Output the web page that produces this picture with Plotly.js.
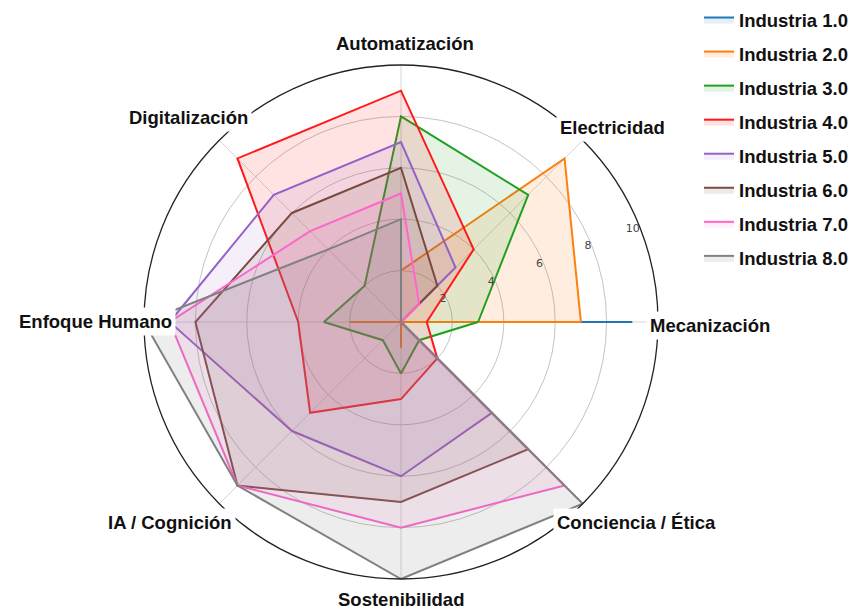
<!DOCTYPE html>
<html>
<head>
<meta charset="utf-8">
<script src="https://cdn.plot.ly/plotly-3.0.1.min.js"></script>
<style>
  html, body { margin: 0; padding: 0; background: #fff; }
  #grafic { width: 850px; height: 609px; }
</style>
</head>
<body>
<div id="grafic"></div>
<script>
// categories (eixos del radar)
var categories = ['Mecanización', 'Electricidad', 'Automatización', 'Digitalización',
                  'Enfoque Humano', 'IA / Cognición', 'Sostenibilidad', 'Conciencia / Ética'];

// valors de cada revolucio industrial (0-10)
var ind1 = [9, 0, 0, 0, 0, 0, 0, 0];
var ind2 = [7, 9, 2, 0, 2, 0, 1, 0];
var ind3 = [3, 7, 8, 2, 3, 1, 2, 1];
var ind4 = [1, 4, 9, 9, 4, 5, 3, 2];
var ind5 = [0, 3, 7, 7, 9, 6, 6, 5];
var ind6 = [0, 2, 6, 6, 8, 9, 7, 7];
var ind7 = [0, 1, 5, 5, 9, 9, 8, 9];
var ind8 = [0, 0, 4, 4, 10, 9, 10, 10];

var noms = ['Industria 1.0', 'Industria 2.0', 'Industria 3.0', 'Industria 4.0',
            'Industria 5.0', 'Industria 6.0', 'Industria 7.0', 'Industria 8.0'];
var radialTicks = [2, 4, 6, 8, 10];

var series = [ind1, ind2, ind3, ind4, ind5, ind6, ind7, ind8];
var colors = ['#1f77b4', '#ff7f0e', '#1fa01f', '#ff1a1a', '#9461c8', '#7a4a40', '#ff66cc', '#808080'];
var fills  = ['rgba(31,119,180,0.12)', 'rgba(255,127,14,0.13)', 'rgba(31,160,31,0.12)', 'rgba(255,26,26,0.12)',
              'rgba(148,97,200,0.10)', 'rgba(122,74,64,0.12)', 'rgba(255,102,204,0.10)', 'rgba(128,128,128,0.14)'];

// posicio (px) de les etiquetes dels eixos
var labelX = [710, 612, 405, 188, 95, 170, 401, 636];
var labelY = [325, 128, 43, 118, 321, 522, 599, 522];

var W = 850, H = 609;

// tanquem cada poligon repetint el primer punt
var traces = [];
for (var k = 0; k < series.length; ++k) {
    var r = series[k].concat([series[k][0]]);
    var th = categories.concat([categories[0]]);
    traces.push({
        type: 'scatterpolar',
        r: r,
        theta: th,
        mode: 'lines',
        fill: 'toself',
        fillcolor: fills[k],
        line: {color: colors[k], width: 2},
        name: noms[k],
        legendgroup: 'g' + k,
        hoverinfo: 'skip'
    });
}

var fontEtiq = {family: 'Liberation Sans, Arial, sans-serif', size: 18.5, weight: 'bold', color: '#111'};

var anots = [];
for (var j = 0; j < categories.length; ++j) {
    anots.push({
        text: categories[j],
        xref: 'paper', yref: 'paper',
        x: labelX[j] / W, y: 1 - labelY[j] / H,
        xanchor: 'center', yanchor: 'middle',
        showarrow: false,
        bgcolor: 'white',
        borderpad: 3,
        font: fontEtiq
    });
}

var layout = {
    width: W, height: H,
    // sense autoexpand perque la llegenda no encongeixi el radar
    margin: {l: 0, r: 0, t: 0, b: 0, autoexpand: false},
    paper_bgcolor: 'white',
    showlegend: true,
    legend: {
        x: 699 / W, y: 1 - 1 / H, xanchor: 'left', yanchor: 'top',
        font: fontEtiq,
        itemwidth: 30,
        tracegroupgap: 7,
        bgcolor: 'rgba(0,0,0,0)'
    },
    polar: {
        domain: {x: [144 / W, 658 / W], y: [1 - 579 / H, 1 - 65 / H]},
        bgcolor: 'white',
        radialaxis: {
            range: [0, 10],
            tickvals: radialTicks,
            ticktext: radialTicks.map(String),
            angle: 20,
            tickangle: 20,
            side: 'counterclockwise',
            showline: false,
            ticks: '',
            gridcolor: '#c4c4c4',
            gridwidth: 1,
            tickfont: {family: 'DejaVu Sans, sans-serif', size: 11, color: '#444'}
        },
        angularaxis: {
            direction: 'counterclockwise',
            rotation: 0,
            showticklabels: false,
            ticks: '',
            showline: true,
            linecolor: '#222',
            linewidth: 1.3,
            gridcolor: '#d6d6d6'
        }
    },
    annotations: anots
};

Plotly.newPlot('grafic', traces, layout, {staticPlot: true});
</script>
</body>
</html>
